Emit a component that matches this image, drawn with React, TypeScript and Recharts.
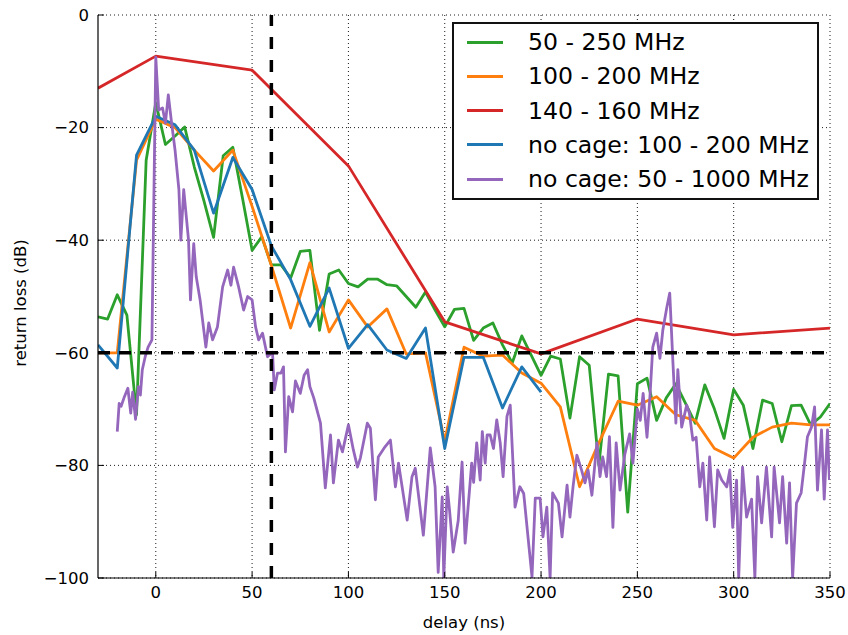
import React from 'react';
import { LineChart, Line, XAxis, YAxis, CartesianGrid, ReferenceLine, Label } from 'recharts';

// ---- data ----
const xTicks = [0, 50, 100, 150, 200, 250, 300, 350];
const yTicks = [-100, -80, -60, -40, -20, 0];

// 50 - 250 MHz (green), 5 ns spacing
const green: [number, number][] = [
  [-30, -53.6], [-25, -54], [-20, -49.7], [-15, -53.3], [-10, -71], [-5, -25.8], [0, -15.6], [5, -23],
  [10, -21.5], [15, -19.9], [20, -27], [25, -33], [30, -39.5], [35, -25], [40, -23.5], [45, -32.5],
  [50, -41.8], [55, -39.4], [60, -44.4], [65, -44.4], [70, -46.7], [75, -42], [80, -41.8], [85, -56],
  [90, -46], [95, -45.3], [100, -47.7], [105, -48.3], [110, -46.9], [115, -46.9], [120, -47.9], [125, -48.1],
  [130, -50], [135, -51.9], [140, -49.2], [145, -52.4], [150, -55.4], [155, -52.3], [160, -52.1], [165, -57.8],
  [170, -55.6], [175, -54.7], [180, -58.6], [185, -61.8], [190, -57], [195, -60.5], [200, -64], [205, -60.6],
  [210, -61.1], [215, -71.6], [220, -60.7], [225, -62.2], [230, -80], [235, -63.8], [240, -64.1], [245, -88.3],
  [250, -65.5], [255, -64.5], [260, -72], [265, -68], [270, -65.5], [275, -69], [280, -72.5], [285, -65.7],
  [290, -70], [295, -75.2], [300, -66.5], [305, -69.3], [310, -77], [315, -68.4], [320, -69], [325, -75.8],
  [330, -69.4], [335, -69.3], [340, -72.8], [345, -71.4], [350, -69],
];

// 100 - 200 MHz (orange), 10 ns spacing
const orange: [number, number][] = [
  [-30, -60], [-20, -60], [-10, -25.8], [0, -18.5], [10, -20], [20, -24], [30, -27.7], [40, -24],
  [50, -34], [60, -44.5], [70, -55.6], [80, -44], [90, -56.3], [100, -50.6], [110, -55.4], [120, -52.2],
  [130, -60.2], [140, -60], [150, -75.7], [160, -59], [170, -60.6], [180, -60.4], [190, -63.6], [200, -65.4],
  [210, -69.6], [220, -83.8], [230, -76], [240, -68.6], [250, -69.3], [260, -67.8], [270, -71], [280, -72],
  [290, -77], [300, -78.7], [310, -75], [320, -73.2], [330, -72.5], [340, -72.8], [350, -72.8],
];

// 140 - 160 MHz (red), 50 ns spacing
const red: [number, number][] = [
  [-30, -13], [0, -7.3], [50, -9.8], [100, -26.8], [150, -54.5], [200, -60.2], [250, -54], [300, -56.8], [350, -55.6],
];

// no cage: 100 - 200 MHz (blue)
const blue: [number, number][] = [
  [-30, -58.6], [-20, -62.7], [-10, -24.9], [0, -18], [10, -19.5], [20, -24], [30, -35.2], [40, -25.3],
  [50, -31], [60, -41], [70, -47], [80, -55.3], [90, -48.5], [100, -59.2], [110, -55], [120, -59.5],
  [130, -61], [140, -55.6], [150, -77], [160, -60.8], [170, -60.8], [180, -69.8], [190, -62.5], [200, -67],
];

// no cage: 50 - 1000 MHz (purple)
const purple: [number, number][] = [
  [-20, -74], [-19, -69], [-18, -69.5], [-16.5, -68], [-14.5, -66.3], [-13, -70.7], [-12, -67], [-10.5, -71.8],
  [-9, -66], [-8, -67.5], [-7, -63], [-5.5, -60.7], [-4, -59], [-2, -57.7], [0, -7.5], [1.5, -16.9],
  [3.5, -16.5], [5, -19.2], [6.5, -14.2], [8, -18.6], [10, -24], [12, -31], [13, -40], [14.5, -31],
  [17, -40], [18, -50.6], [19.7, -40.6], [21, -46.5], [23, -50.6], [26, -59], [27.5, -54.7], [29.5, -57.7],
  [32, -55.4], [34.7, -48.3], [37.3, -45.3], [39, -48], [40.4, -44.8], [43, -48.3], [45.6, -52.4], [47.7, -50],
  [50, -50.6], [51.8, -55.4], [53.4, -57.7], [55.4, -56.5], [58, -60.7], [60.6, -59.9], [61.5, -66.6], [63.2, -63.6],
  [65, -63.6], [66.3, -62.5], [67.3, -77.6], [69, -67.8], [71, -70.5], [72.5, -65], [75, -67.2], [77, -64],
  [78.8, -63], [80, -66], [82, -68], [85.5, -72.5], [88, -84], [90.7, -74.6], [92.2, -83.1], [94.8, -75.5],
  [96.9, -77.6], [100, -72.8], [102.6, -77.3], [104.7, -80.3], [106.2, -78.7], [109.8, -72.5], [111.4, -73.4], [114, -86.1],
  [115.5, -78.5], [119, -76.7], [121.8, -75.5], [124.4, -83.8], [126, -79.6], [130.5, -89.7], [133, -82], [134.7, -80.5],
  [138.9, -92.4], [142.5, -76.9], [145, -83.8], [146.6, -99], [148.7, -85.6], [149.5, -100], [151.3, -83.8], [152.5, -88],
  [154.4, -95.4], [157, -89.8], [159, -79.4], [160.6, -93.8], [164, -79.6], [165, -83], [166.6, -76], [168.4, -82.6],
  [169.5, -74], [171, -79.6], [172, -74.6], [173.6, -74.6], [175.3, -77], [177, -71.9], [178.8, -76], [180.3, -82],
  [182.3, -71.3], [184, -69.3], [186.5, -87.4], [189, -83.8], [191, -85], [193.4, -93.3], [195.3, -99.8], [197, -85.8],
  [199.5, -85.8], [201, -92.7], [203, -87.4], [204.7, -100], [206, -84.9], [209, -86.7], [210.9, -92.7], [213.5, -83.5],
  [215, -89.2], [216.6, -83.8], [218.6, -78.2], [221, -80.8], [222.8, -83.1], [224.4, -80.8], [226.4, -85.3], [229, -76],
  [230.6, -82], [232, -78.5], [234, -82], [235.5, -74.9], [237.3, -91], [239, -76], [241, -84.4], [243.5, -78],
  [246, -74.4], [247.7, -79.6], [250, -70], [251.5, -72], [253, -67.2], [255, -75], [256.5, -67.9], [258, -59],
  [260, -56.5], [261.7, -61], [263.2, -56], [265.3, -51.9], [266.8, -49.4], [268.4, -61.3], [270, -72.5], [271, -63],
  [273, -73.2], [275.6, -69.3], [277, -70.7], [278.8, -75.5], [280.5, -75], [282.4, -83.8], [284, -79.6], [286, -89.7],
  [287.5, -78.5], [290, -90.9], [291.7, -80.8], [293.8, -82.6], [296.4, -83.8], [298, -80.8], [299.5, -91], [301.5, -82.6],
  [302.6, -100], [304.6, -80.3], [306.7, -89.2], [309.3, -86], [311, -100], [312.4, -82], [314.5, -90.2], [317, -80.3],
  [319.7, -92.7], [321, -80.3], [323.8, -90.2], [325.4, -82], [327.5, -93.8], [329, -83.1], [330.6, -100], [332.6, -86.7],
  [335, -84.9], [336.8, -79.6], [338.3, -74.9], [340.4, -73.2], [342, -69.6], [343.5, -84.4], [345.6, -73.7], [347, -86],
  [348.7, -73.7], [349.7, -82.6],
];

const seriesNames = ['50 - 250 MHz', '100 - 200 MHz', '140 - 160 MHz', 'no cage: 100 - 200 MHz', 'no cage: 50 - 1000 MHz'];
const seriesColors = ['#2ca02c', '#ff7f0e', '#d62728', '#1f77b4', '#9467bd'];
const seriesData = [green, orange, red, blue, purple];

const toRows = (arr: [number, number][]) => arr.map(([x, y]) => ({ x, y }));
const fmt = (v: number) => String(v).replace('-', '\u2212');

const FONT = 'DejaVu Sans, sans-serif';
const tickStyle = { fill: '#000', fontSize: 16.5, fontFamily: FONT };

export default function App() {
  return (
    <div style={{ position: 'absolute', left: 0, top: 0, width: 848, height: 635, background: '#fff' }}>
      <LineChart width={848} height={635} margin={{ top: 15, right: 18, bottom: 0, left: 0 }}>
        <CartesianGrid stroke="#000" strokeWidth={0.9} strokeDasharray="1 3" verticalValues={xTicks} horizontalValues={yTicks} />
        <XAxis
          dataKey="x"
          type="number"
          domain={[-30, 350]}
          ticks={xTicks}
          allowDataOverflow
          height={57}
          tickSize={-6}
          tickMargin={14}
          tick={tickStyle}
          tickFormatter={fmt}
          axisLine={{ stroke: '#000', strokeWidth: 1.2 }}
          tickLine={{ stroke: '#000' }}
        >
          <Label
            content={() => (
              <text x={464} y={622} textAnchor="middle" dominantBaseline="central" fontSize={16.5} fontFamily={FONT} fill="#000">
                delay (ns)
              </text>
            )}
          />
        </XAxis>
        <XAxis
          xAxisId="top"
          orientation="top"
          type="number"
          dataKey="x"
          domain={[-30, 350]}
          ticks={xTicks}
          allowDataOverflow
          height={0}
          tickSize={-6}
          tickFormatter={() => ''}
          axisLine={{ stroke: '#000', strokeWidth: 1.2 }}
          tickLine={{ stroke: '#000' }}
        />
        <YAxis
          type="number"
          domain={[-100, 0]}
          ticks={yTicks}
          allowDataOverflow
          width={98}
          tickSize={-6}
          tickMargin={15}
          tick={tickStyle}
          tickFormatter={fmt}
          axisLine={{ stroke: '#000', strokeWidth: 1.2 }}
          tickLine={{ stroke: '#000' }}
        >
          <Label
            content={() => (
              <text x={20} y={303} transform="rotate(-90 20 303)" textAnchor="middle" dominantBaseline="central" fontSize={16.5} fontFamily={FONT} fill="#000">
                return loss (dB)
              </text>
            )}
          />
        </YAxis>
        <YAxis
          yAxisId="right"
          orientation="right"
          type="number"
          domain={[-100, 0]}
          ticks={yTicks}
          allowDataOverflow
          width={0}
          tickSize={-6}
          tickFormatter={() => ''}
          axisLine={{ stroke: '#000', strokeWidth: 1.2 }}
          tickLine={{ stroke: '#000' }}
        />
        {seriesData.map((d, i) => (
          <Line
            key={seriesNames[i]}
            data={toRows(d)}
            dataKey="y"
            name={seriesNames[i]}
            type="linear"
            stroke={seriesColors[i]}
            strokeWidth={2.8}
            dot={false}
            activeDot={false}
            isAnimationActive={false}
            strokeLinejoin="round"
          />
        ))}
        <ReferenceLine x={60} stroke="#000" strokeWidth={3.5} strokeDasharray="12 11" />
        <ReferenceLine y={-60} stroke="#000" strokeWidth={3.5} strokeDasharray="12 9" />
      </LineChart>
      <div
        style={{
          position: 'absolute',
          left: 452,
          top: 22,
          width: 367,
          height: 178,
          boxSizing: 'border-box',
          border: '2px solid #111',
          background: '#fff',
          fontFamily: FONT,
          fontSize: 23.6,
          color: '#000',
        }}
      >
        {seriesNames.map((n, i) => (
          <div key={n} style={{ position: 'absolute', left: 0, top: 18 + i * 34.3, height: 0 }}>
            <div style={{ position: 'absolute', left: 13, top: -1.5, width: 36, height: 3, background: seriesColors[i] }} />
            <div style={{ position: 'absolute', left: 74, top: -15, whiteSpace: 'nowrap', lineHeight: '30px' }}>{n}</div>
          </div>
        ))}
      </div>
    </div>
  );
}
